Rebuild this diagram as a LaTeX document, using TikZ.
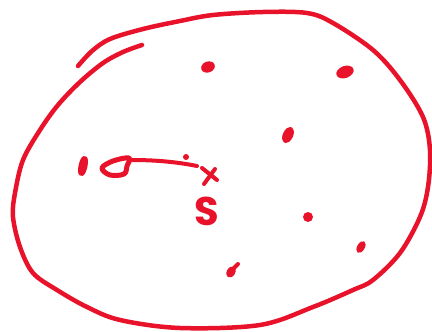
\documentclass[tikz,border=0pt]{standalone}
\usepackage{fontspec}
\newfontfamily\handfont{Poppins}
\definecolor{ink}{HTML}{E8132A}
\begin{document}
\begin{tikzpicture}[x=1pt,y=-1pt,
  pen/.style={draw=ink,line width=4.5pt,line cap=round,line join=round},
  thin pen/.style={draw=ink,line width=4pt,line cap=round,line join=round},
  blob/.style={fill=ink}]
\useasboundingbox (0,0) rectangle (432,332);
% outline of the region
\draw[pen] plot[smooth,tension=0.55] coordinates {
 (78,66) (92,51) (110,39) (143,29) (180,21) (213,15) (263,12) (307,13) (333,23)
 (373,50) (400,80) (423,117) (430,150) (428,187) (420,217) (400,253) (373,280)
 (353,290) (313,307) (260,325) (180,328) (120,320) (87,307) (57,290) (33,273)
 (20,247) (13,217) (15,193) (23,160) (40,130) (58,105) (80,82) (103,63) (123,52) (142,45)};
% points
\fill[blob,rotate around={20:(208,67)}] (208,67) ellipse [x radius=7,y radius=5.5];
\fill[blob,rotate around={20:(345,72)}] (345,72) ellipse [x radius=9,y radius=6];
\draw[pen,line width=5pt,rotate around={-25:(288,135)}] (288,135) ellipse [x radius=2.6,y radius=6];
\draw[pen,rotate around={-12:(83,166)}] (83,166) ellipse [x radius=2.2,y radius=8];
\fill[blob] (308,217) circle [radius=5];
\fill[blob,rotate around={-30:(361,247)}] (361,247) ellipse [x radius=3.8,y radius=6.5];
\fill[blob,rotate around={-30:(231,272)}] (231,272) ellipse [x radius=4.2,y radius=6];
\draw[thin pen] (231,271) -- (238,264);
\fill[blob] (186,157) circle [radius=3];
% cross
\draw[thin pen] (202,168) -- (217,180);
\draw[thin pen] (215,169) -- (204,184);
% arrow
\draw[thin pen] (197,166) .. controls (172,161) and (150,160) .. (131,160);
\draw[pen,line width=5pt] plot[smooth cycle,tension=0.6] coordinates {(129,158) (113,161) (102,168) (110,175) (124,174) (127,166)};
% label
\node[text=ink,font=\handfont\bfseries\fontsize{40}{40}\selectfont,inner sep=0pt] (S) at (207,211) {S};
\end{tikzpicture}
\end{document}
